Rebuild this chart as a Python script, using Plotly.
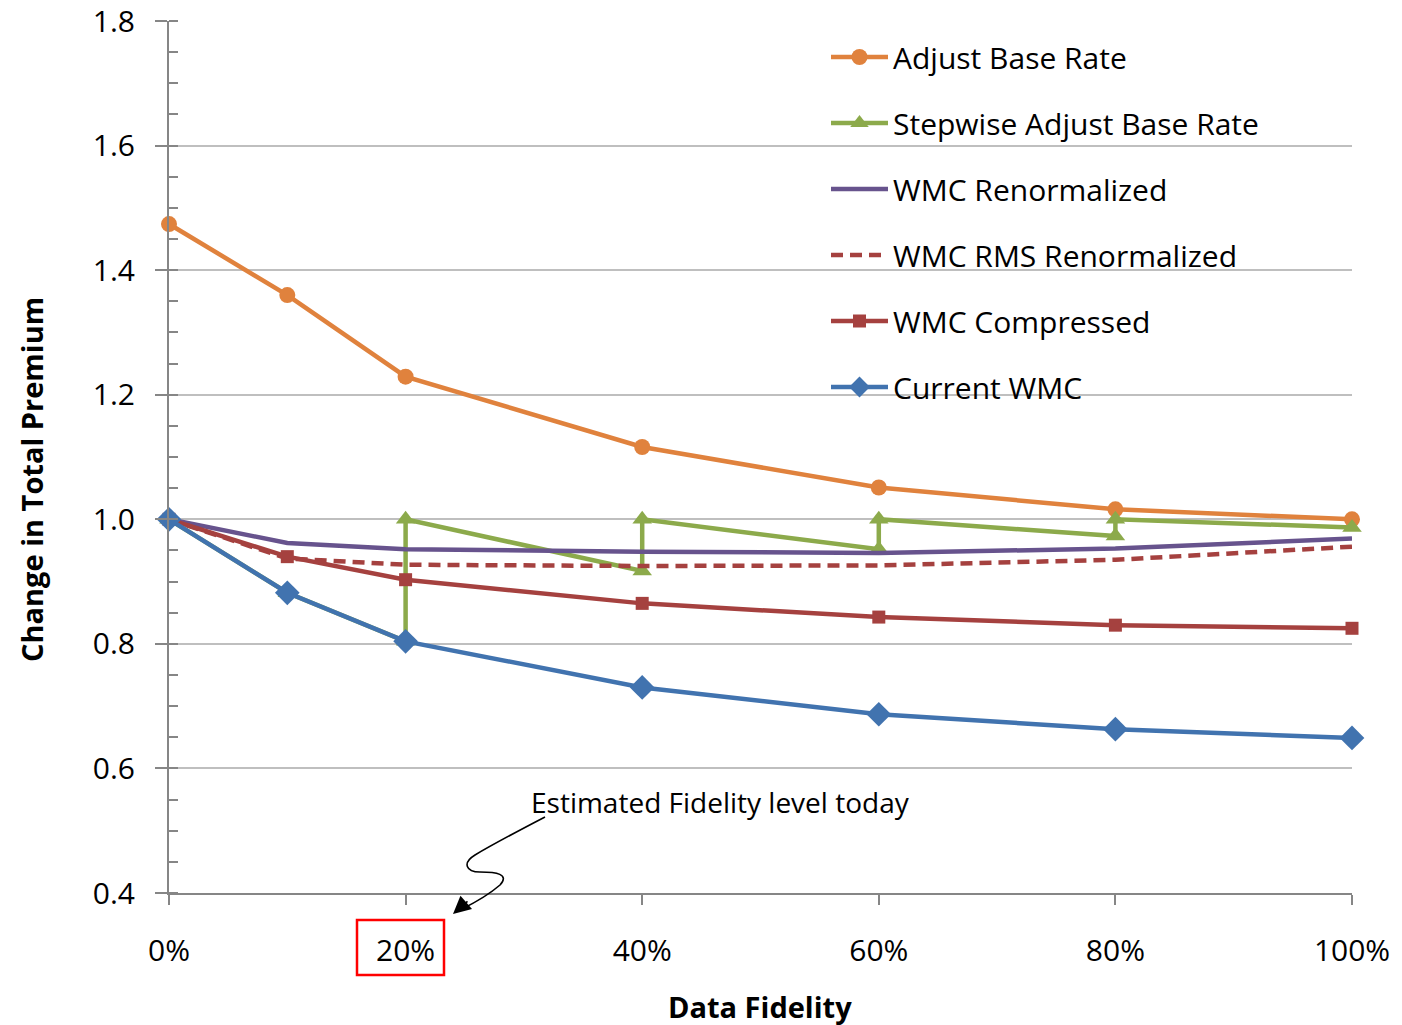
import plotly.graph_objects as go

# Data fidelity levels (percent) and change in total premium per method
fidelity = [0, 10, 20, 40, 60, 80, 100]
adjust_base_rate = [1.474, 1.360, 1.229, 1.116, 1.051, 1.016, 1.000]
wmc_renormalized = [1.000, 0.962, 0.952, 0.948, 0.946, 0.953, 0.969]
wmc_rms_renormalized = [1.000, 0.937, 0.927, 0.925, 0.926, 0.935, 0.956]
wmc_compressed = [1.000, 0.940, 0.903, 0.865, 0.843, 0.830, 0.825]
current_wmc = [1.000, 0.882, 0.804, 0.730, 0.687, 0.663, 0.649]

# Stepwise method: each step jumps back up to 1.0 before the next decline
stepwise_x = [0, 10, 20, 20, 40, 40, 60, 60, 80, 80, 100]
stepwise_y = [1.000, 0.882, 0.804, 1.000, 0.917, 1.000, 0.952, 1.000, 0.973, 1.000, 0.987]

x_ticks = [0, 20, 40, 60, 80, 100]
x_tick_labels = ["0%", "20%", "40%", "60%", "80%", "100%"]
y_ticks = [0.4, 0.6, 0.8, 1.0, 1.2, 1.4, 1.6, 1.8]
y_tick_labels = ["0.4", "0.6", "0.8", "1.0", "1.2", "1.4", "1.6", "1.8"]

ORANGE = "#E0823D"
GREEN = "#8CAA4B"
PURPLE = "#67538D"
RED = "#A5413F"
BLUE = "#4173AF"
AXIS = "#868686"
GRID = "#BFBFBF"
FONT = "Open Sans"

# Plot-area edges in page pixels, used for the callout geometry
PL, PR, PT, PB = 169, 1352, 21, 893


def px(x):
    return (x - PL) / (PR - PL)


def py(y):
    return (PB - y) / (PB - PT)


fig = go.Figure()
LW = 4.5

fig.add_trace(go.Scatter(
    x=fidelity, y=adjust_base_rate, name="Adjust Base Rate", mode="lines+markers",
    line=dict(color=ORANGE, width=LW), marker=dict(symbol="circle", size=16, color=ORANGE),
    legendgroup="a", cliponaxis=False))
fig.add_trace(go.Scatter(
    x=stepwise_x, y=stepwise_y, name="Stepwise Adjust Base Rate", mode="lines+markers",
    line=dict(color=GREEN, width=LW), marker=dict(symbol="triangle-up", size=17, color=GREEN),
    legendgroup="b", cliponaxis=False))
fig.add_trace(go.Scatter(
    x=fidelity, y=wmc_renormalized, name="WMC Renormalized", mode="lines",
    line=dict(color=PURPLE, width=LW), legendgroup="c", cliponaxis=False))
fig.add_trace(go.Scatter(
    x=fidelity, y=wmc_rms_renormalized, name="WMC RMS Renormalized", mode="lines",
    line=dict(color=RED, width=LW, dash="12px,7px"), legendgroup="d", cliponaxis=False))
fig.add_trace(go.Scatter(
    x=fidelity, y=wmc_compressed, name="WMC Compressed", mode="lines+markers",
    line=dict(color=RED, width=LW), marker=dict(symbol="square", size=13, color=RED),
    legendgroup="e", cliponaxis=False))
fig.add_trace(go.Scatter(
    x=fidelity, y=current_wmc, name="Current WMC", mode="lines+markers",
    line=dict(color=BLUE, width=LW), marker=dict(symbol="diamond", size=19, color=BLUE),
    legendgroup="f", cliponaxis=False))

# White panel behind the legend, above the gridlines
fig.add_shape(type="rect", xref="paper", yref="paper",
              x0=px(818), x1=px(1281), y0=py(413), y1=py(31),
              fillcolor="white", line=dict(width=0), layer="between")

# Red box around the 20% tick label
fig.add_shape(type="rect", xref="paper", yref="paper",
              x0=px(357), x1=px(444), y0=py(975), y1=py(920),
              line=dict(color="#FF0000", width=2.5), fillcolor="rgba(0,0,0,0)")

# Wavy callout line from the note down to the 20% label
pts = [(545, 817), (520, 830), (490, 846), (475, 855),
       (462, 863), (466, 872), (480, 872),
       (496, 872), (510, 874), (500, 885),
       (485, 898), (470, 905), (460, 910)]
path = "M {:.5f},{:.5f}".format(px(pts[0][0]), py(pts[0][1]))
for i in range(1, len(pts), 3):
    seg = pts[i:i + 3]
    path += " C " + " ".join("{:.5f},{:.5f}".format(px(a), py(b)) for a, b in seg)
fig.add_shape(type="path", xref="paper", yref="paper", path=path,
              line=dict(color="black", width=1.6))

fig.add_annotation(xref="paper", yref="paper", x=px(453), y=py(914), ax=16, ay=-14,
                   text="", showarrow=True, arrowhead=2, arrowsize=2.2, arrowwidth=1.6,
                   arrowcolor="black")
fig.add_annotation(xref="paper", yref="paper", x=px(720), y=py(802),
                   text="Estimated Fidelity level today", showarrow=False,
                   font=dict(family=FONT, size=28, color="black"),
                   xanchor="center", yanchor="middle")

# Axis titles
fig.add_annotation(xref="paper", yref="paper", x=px(760), y=py(1006),
                   text="<b>Data Fidelity</b>", showarrow=False,
                   font=dict(family=FONT, size=29, color="black"),
                   xanchor="center", yanchor="middle")
fig.add_annotation(xref="paper", yref="paper", x=px(31), y=py(480),
                   text="<b>Change in Total Premium</b>", showarrow=False, textangle=-90,
                   font=dict(family=FONT, size=29, color="black"),
                   xanchor="center", yanchor="middle")

fig.update_xaxes(
    range=[0, 100], tickvals=x_ticks, ticktext=x_tick_labels, automargin=False,
    showgrid=False, zeroline=False, showline=True, linecolor=AXIS, linewidth=2,
    ticks="outside", ticklen=10, tickwidth=2, tickcolor=AXIS, ticklabelstandoff=20,
    ticklabeloverflow="allow",
    tickfont=dict(family=FONT, size=30, color="black"))
fig.update_yaxes(
    range=[0.4, 1.8], tickvals=y_ticks, ticktext=y_tick_labels, automargin=False,
    showgrid=True, gridcolor=GRID, gridwidth=2, zeroline=False,
    showline=True, linecolor=AXIS, linewidth=2,
    ticks="outside", ticklen=12, tickwidth=2, tickcolor=AXIS, ticklabelstandoff=14,
    ticklabeloverflow="allow",
    minor=dict(dtick=0.05, tick0=0.4, ticks="inside", ticklen=9, tickwidth=2,
               tickcolor=AXIS, showgrid=False),
    tickfont=dict(family=FONT, size=30, color="black"))

fig.update_layout(
    width=1402, height=1025,
    margin=dict(l=PL, r=1402 - PR, t=PT, b=1025 - PB, pad=0, autoexpand=False),
    paper_bgcolor="white", plot_bgcolor="white",
    showlegend=True,
    legend=dict(x=px(826), y=py(31), xanchor="left", yanchor="top",
                bgcolor="rgba(0,0,0,0)", itemwidth=57, tracegroupgap=24,
                font=dict(family=FONT, size=30, color="black"),
                traceorder="grouped", itemclick=False),
    font=dict(family=FONT),
)

fig.write_html("out.html")
